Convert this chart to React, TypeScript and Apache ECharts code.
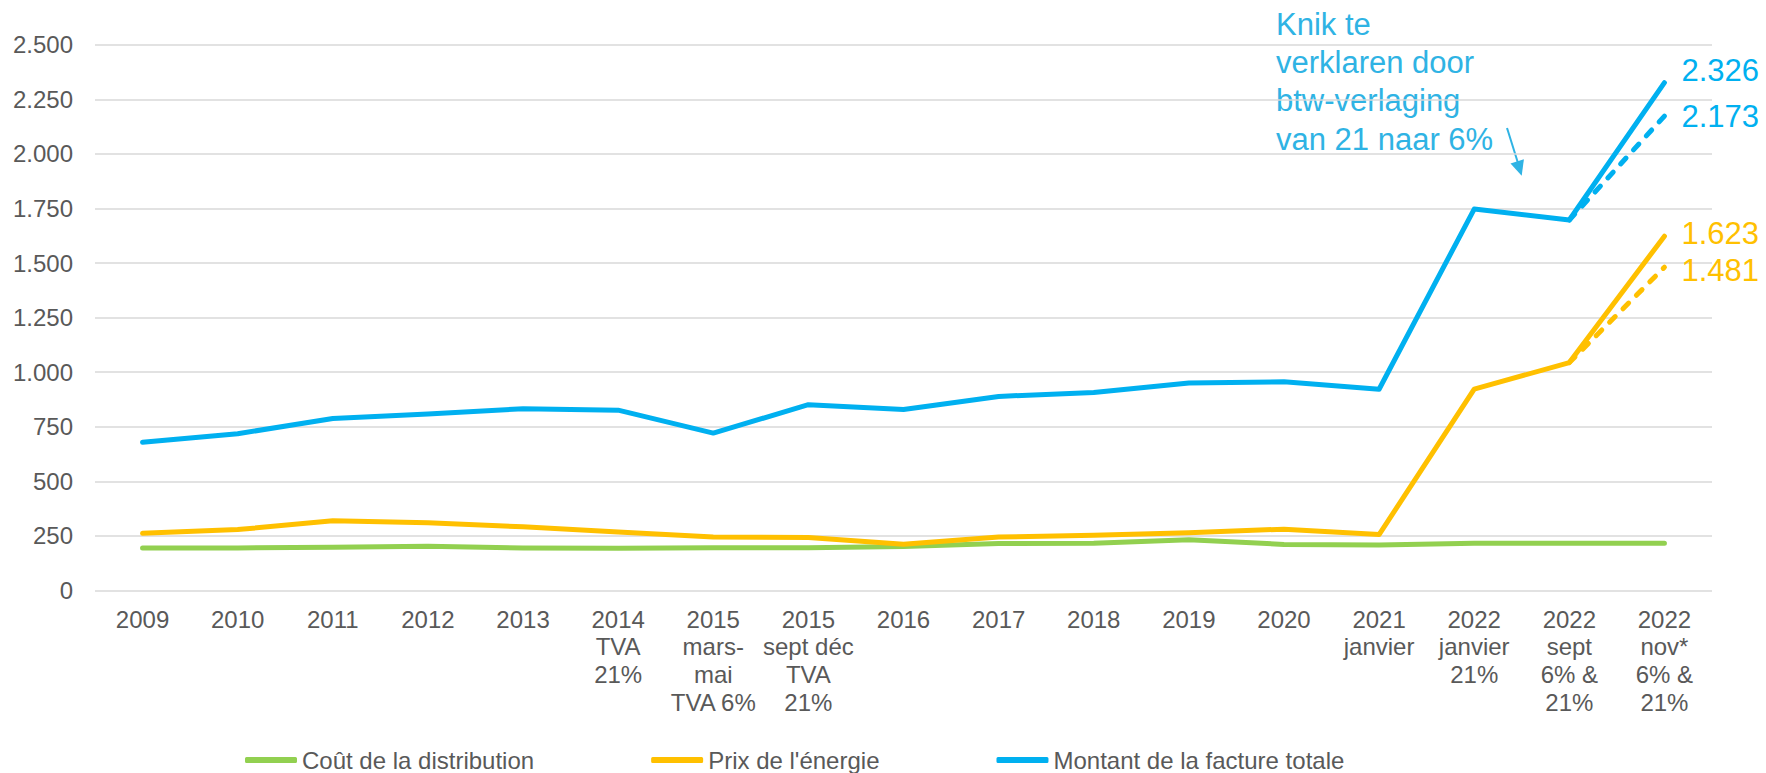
import React, { useEffect, useRef } from "react";
import * as echarts from "echarts";

const categories = [
  "2009", "2010", "2011", "2012", "2013",
  "2014\nTVA\n21%",
  "2015\nmars-\nmai\nTVA 6%",
  "2015\nsept déc\nTVA\n21%",
  "2016", "2017", "2018", "2019", "2020",
  "2021\njanvier",
  "2022\njanvier\n21%",
  "2022\nsept\n6% &\n21%",
  "2022\nnov*\n6% &\n21%",
];

const distribution = [195, 195, 198, 203, 195, 194, 196, 196, 201, 215, 216, 232, 211, 208, 216, 216, 216];
const energie = [262, 279, 319, 310, 292, 268, 245, 243, 212, 245, 253, 264, 281, 256, 922, 1044, 1623];
const factureTotale = [679, 718, 788, 808, 833, 826, 721, 851, 829, 889, 907, 950, 956, 922, 1747, 1697, 2326];
const energieAlt = [null, null, null, null, null, null, null, null, null, null, null, null, null, null, null, 1044, 1481];
const factureAlt = [null, null, null, null, null, null, null, null, null, null, null, null, null, null, null, 1697, 2173];

const seriesNames = ["Coût de la distribution", "Prix de l'énergie", "Montant de la facture totale"];
const annotationText = "Knik te\nverklaren door\nbtw-verlaging\nvan 21 naar 6%";

const GREEN = "#92D050";
const YELLOW = "#FFC000";
const BLUE = "#00B0F0";
const NOTE = "#2FB3E4";
const TEXT = "#595959";
const FONT = "'Liberation Sans', Arial, sans-serif";

const fmt = (v: number) => String(v).replace(/\B(?=(\d{3})+(?!\d))/g, ".");

function endLabel(values: (number | null)[], color: string, offset: number[]) {
  const last = values[values.length - 1] as number;
  return {
    show: true,
    distance: 17,
    offset,
    formatter: () => fmt(last),
    color,
    fontSize: 31,
    lineHeight: 31,
    fontFamily: FONT,
  };
}

export default function App() {
  const ref = useRef<HTMLDivElement>(null);
  useEffect(() => {
    if (!ref.current) return;
    const chart = echarts.init(ref.current, null, { renderer: "svg" });
    const baseLine = (color: string, dashed = false) => ({
      type: "line",
      symbol: "none",
      showSymbol: false,
      lineStyle: { color, width: 5, cap: "round", join: "round", type: dashed ? [8, 11] : "solid" },
      itemStyle: { color },
      emphasis: { disabled: true },
    });
    chart.setOption({
      animation: false,
      textStyle: { fontFamily: FONT },
      grid: { left: 95, right: 54, top: 44.7, height: 545.8, containLabel: false },
      legend: {
        data: seriesNames,
        left: 245,
        top: 748,
        padding: 0,
        itemGap: 117,
        itemWidth: 52,
        itemHeight: 6,
        icon: "roundRect",
        textStyle: { color: TEXT, fontSize: 24, fontFamily: FONT },
      },
      xAxis: {
        type: "category",
        data: categories,
        boundaryGap: true,
        axisLine: { show: false },
        axisTick: { show: false },
        axisLabel: {
          interval: 0,
          color: TEXT,
          fontSize: 24,
          lineHeight: 27.6,
          margin: 15,
          fontFamily: FONT,
        },
      },
      yAxis: {
        type: "value",
        min: 0,
        max: 2500,
        interval: 250,
        axisLine: { show: false },
        axisTick: { show: false },
        axisLabel: {
          color: TEXT,
          fontSize: 24,
          margin: 22,
          fontFamily: FONT,
          formatter: (v: number) => fmt(v),
        },
        splitLine: { show: true, lineStyle: { color: "#D9D9D9", width: 1.5 } },
      },
      series: [
        { ...baseLine(GREEN), name: seriesNames[0], data: distribution },
        { ...baseLine(YELLOW), name: seriesNames[1], data: energie, endLabel: endLabel(energie, YELLOW, [0, -3]) },
        { ...baseLine(YELLOW, true), name: "energieAlt", data: energieAlt, endLabel: endLabel(energieAlt, YELLOW, [0, 3]) },
        { ...baseLine(BLUE), name: seriesNames[2], data: factureTotale, endLabel: endLabel(factureTotale, BLUE, [0, -12]) },
        { ...baseLine(BLUE, true), name: "factureAlt", data: factureAlt, endLabel: endLabel(factureAlt, BLUE, [0, 0]) },
      ],
      graphic: [
        {
          type: "text",
          x: 1276,
          y: 81.7,
          style: {
            text: annotationText,
            fill: NOTE,
            font: `31px ${FONT}`,
            lineHeight: 38.3,
            verticalAlign: "middle",
          },
        },
        {
          type: "line",
          shape: { x1: 1507, y1: 128, x2: 1518, y2: 163 },
          style: { stroke: NOTE, lineWidth: 2 },
        },
        {
          type: "polygon",
          shape: { points: [[1523.9, 159.3], [1510.5, 163.5], [1521.7, 175.7]] },
          style: { fill: NOTE },
        },
      ],
    });
    return () => chart.dispose();
  }, []);
  return (
    <div
      ref={ref}
      style={{ position: "fixed", left: 0, top: 0, width: 1766, height: 773, background: "#fff" }}
    />
  );
}
